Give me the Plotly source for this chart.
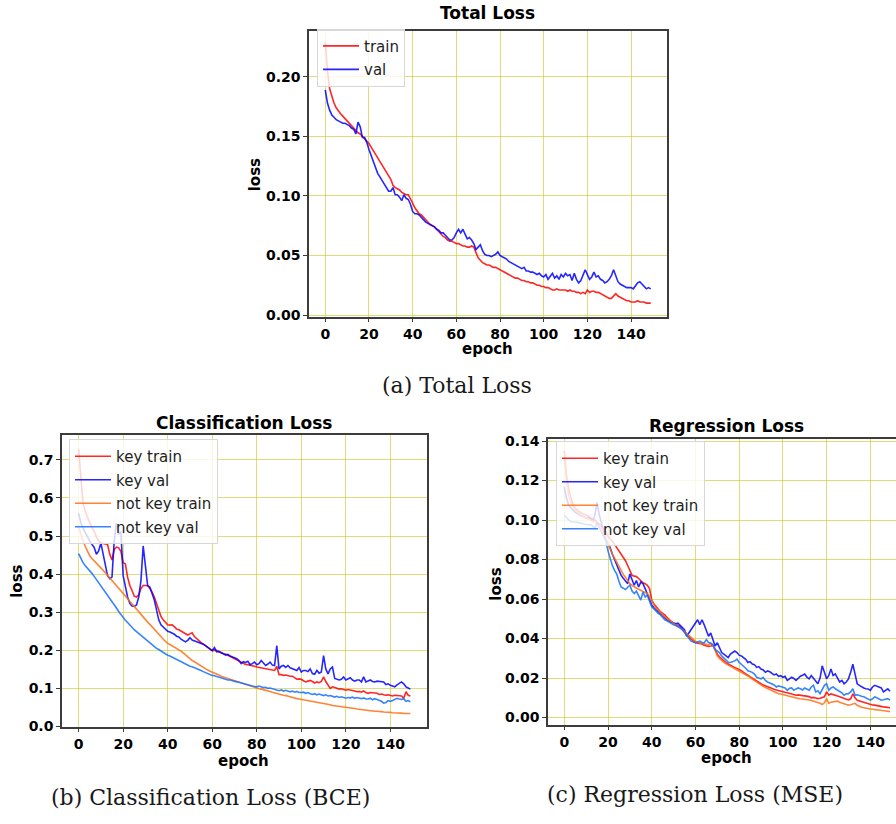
import plotly.graph_objects as go

W, H = 896, 824

epochs = list(range(150))

total_train = [
    0.229, 0.205, 0.190, 0.183, 0.178, 0.174, 0.171, 0.169, 0.167, 0.165,
    0.163, 0.161, 0.159, 0.157, 0.155, 0.153, 0.152, 0.150, 0.148, 0.146,
    0.144, 0.141, 0.138, 0.135, 0.133, 0.130, 0.127, 0.124, 0.121, 0.118,
    0.114, 0.109, 0.107, 0.106, 0.105, 0.103, 0.102, 0.101, 0.101, 0.098,
    0.094, 0.090, 0.087, 0.085, 0.084, 0.082, 0.080, 0.078, 0.076, 0.075,
    0.074, 0.072, 0.070, 0.068, 0.066, 0.065, 0.063, 0.062, 0.062, 0.061,
    0.060, 0.060, 0.059, 0.058, 0.058, 0.057, 0.057, 0.058, 0.057, 0.052,
    0.048, 0.046, 0.044, 0.043, 0.042, 0.042, 0.041, 0.040, 0.040, 0.039,
    0.038, 0.037, 0.036, 0.035, 0.034, 0.033, 0.032, 0.031, 0.031, 0.030,
    0.029, 0.029, 0.028, 0.028, 0.027, 0.027, 0.026, 0.025, 0.025, 0.024,
    0.024, 0.023, 0.023, 0.022, 0.021, 0.021, 0.022, 0.021, 0.021, 0.021,
    0.021, 0.020, 0.021, 0.020, 0.020, 0.019, 0.019, 0.018, 0.019, 0.018,
    0.021, 0.019, 0.020, 0.020, 0.019, 0.019, 0.018, 0.017, 0.016, 0.015,
    0.014, 0.014, 0.016, 0.018, 0.016, 0.015, 0.014, 0.013, 0.012, 0.012,
    0.011, 0.011, 0.011, 0.012, 0.011, 0.011, 0.011, 0.010, 0.010, 0.010,
]

total_val = [
    0.189, 0.178, 0.172, 0.168, 0.166, 0.164, 0.163, 0.162, 0.161, 0.161,
    0.160, 0.159, 0.157, 0.156, 0.152, 0.162, 0.158, 0.149, 0.149, 0.145,
    0.139, 0.134, 0.128, 0.123, 0.119, 0.116, 0.113, 0.110, 0.106, 0.104,
    0.104, 0.107, 0.101, 0.101, 0.099, 0.096, 0.101, 0.098, 0.097, 0.093,
    0.087, 0.085, 0.085, 0.084, 0.082, 0.080, 0.078, 0.077, 0.076, 0.075,
    0.074, 0.072, 0.071, 0.069, 0.069, 0.067, 0.065, 0.063, 0.063, 0.065,
    0.069, 0.072, 0.069, 0.072, 0.068, 0.064, 0.065, 0.063, 0.060, 0.055,
    0.057, 0.059, 0.054, 0.051, 0.050, 0.050, 0.049, 0.050, 0.051, 0.053,
    0.050, 0.049, 0.048, 0.047, 0.045, 0.044, 0.043, 0.042, 0.041, 0.040,
    0.039, 0.040, 0.037, 0.037, 0.036, 0.036, 0.035, 0.034, 0.035, 0.033,
    0.032, 0.034, 0.030, 0.033, 0.035, 0.031, 0.033, 0.030, 0.034, 0.032,
    0.035, 0.033, 0.034, 0.029, 0.035, 0.030, 0.027, 0.029, 0.034, 0.038,
    0.034, 0.030, 0.032, 0.036, 0.032, 0.033, 0.030, 0.029, 0.027, 0.028,
    0.030, 0.033, 0.038, 0.032, 0.028, 0.026, 0.025, 0.024, 0.023, 0.023,
    0.023, 0.022, 0.025, 0.027, 0.028, 0.026, 0.024, 0.022, 0.023, 0.022,
]

cls_key_train = [
    0.729, 0.660, 0.585, 0.565, 0.547, 0.535, 0.522, 0.512, 0.498, 0.487,
    0.482, 0.480, 0.480, 0.478, 0.452, 0.437, 0.465, 0.471, 0.469, 0.460,
    0.430, 0.427, 0.392, 0.370, 0.357, 0.342, 0.340, 0.345, 0.362, 0.370,
    0.370, 0.370, 0.362, 0.353, 0.340, 0.323, 0.302, 0.289, 0.280, 0.272,
    0.267, 0.266, 0.267, 0.262, 0.256, 0.254, 0.250, 0.246, 0.242, 0.240,
    0.243, 0.246, 0.236, 0.230, 0.224, 0.220, 0.216, 0.211, 0.207, 0.203,
    0.199, 0.199, 0.200, 0.196, 0.193, 0.191, 0.190, 0.187, 0.184, 0.180,
    0.177, 0.173, 0.170, 0.167, 0.164, 0.163, 0.162, 0.161, 0.160, 0.158,
    0.156, 0.155, 0.153, 0.153, 0.152, 0.151, 0.150, 0.149, 0.147, 0.158,
    0.136, 0.136, 0.134, 0.135, 0.133, 0.132, 0.132, 0.128, 0.124, 0.125,
    0.124, 0.120, 0.117, 0.119, 0.121, 0.118, 0.114, 0.117, 0.115, 0.118,
    0.130, 0.118, 0.108, 0.100, 0.104, 0.103, 0.100, 0.098, 0.099, 0.097,
    0.095, 0.097, 0.096, 0.095, 0.093, 0.091, 0.092, 0.090, 0.093, 0.089,
    0.087, 0.089, 0.088, 0.086, 0.087, 0.084, 0.085, 0.083, 0.082, 0.083,
    0.081, 0.080, 0.082, 0.081, 0.082, 0.080, 0.074, 0.091, 0.082, 0.080,
]

cls_key_val = [
    0.560, 0.535, 0.520, 0.508, 0.495, 0.487, 0.478, 0.470, 0.452, 0.461,
    0.482, 0.452, 0.422, 0.396, 0.388, 0.392, 0.487, 0.534, 0.504, 0.512,
    0.396, 0.370, 0.340, 0.323, 0.316, 0.315, 0.319, 0.340, 0.383, 0.474,
    0.426, 0.370, 0.366, 0.349, 0.332, 0.306, 0.280, 0.267, 0.261, 0.255,
    0.250, 0.248, 0.246, 0.242, 0.237, 0.235, 0.229, 0.226, 0.222, 0.226,
    0.233, 0.227, 0.225, 0.222, 0.222, 0.219, 0.216, 0.212, 0.207, 0.203,
    0.199, 0.207, 0.196, 0.197, 0.195, 0.191, 0.187, 0.189, 0.185, 0.183,
    0.181, 0.178, 0.173, 0.165, 0.170, 0.168, 0.171, 0.162, 0.165, 0.169,
    0.162, 0.165, 0.173, 0.165, 0.160, 0.164, 0.169, 0.161, 0.160, 0.212,
    0.151, 0.158, 0.160, 0.155, 0.160, 0.154, 0.151, 0.149, 0.147, 0.155,
    0.143, 0.147, 0.147, 0.144, 0.151, 0.139, 0.137, 0.147, 0.140, 0.143,
    0.186, 0.151, 0.138, 0.151, 0.156, 0.126, 0.125, 0.122, 0.124, 0.130,
    0.122, 0.125, 0.128, 0.122, 0.119, 0.122, 0.122, 0.117, 0.130, 0.117,
    0.120, 0.122, 0.118, 0.117, 0.119, 0.118, 0.116, 0.117, 0.110, 0.112,
    0.108, 0.107, 0.104, 0.109, 0.112, 0.117, 0.112, 0.104, 0.101, 0.098,
]

cls_notkey_train = [
    0.525, 0.505, 0.487, 0.473, 0.460, 0.448, 0.441, 0.435, 0.429, 0.423,
    0.418, 0.411, 0.404, 0.397, 0.390, 0.383, 0.376, 0.369, 0.362, 0.355,
    0.349, 0.342, 0.335, 0.328, 0.321, 0.315, 0.307, 0.300, 0.293, 0.286,
    0.280, 0.274, 0.268, 0.262, 0.256, 0.250, 0.243, 0.236, 0.229, 0.223,
    0.218, 0.215, 0.212, 0.209, 0.206, 0.203, 0.198, 0.193, 0.188, 0.182,
    0.177, 0.173, 0.170, 0.166, 0.162, 0.158, 0.155, 0.151, 0.148, 0.145,
    0.143, 0.140, 0.138, 0.135, 0.132, 0.130, 0.128, 0.125, 0.123, 0.121,
    0.119, 0.117, 0.116, 0.113, 0.112, 0.110, 0.108, 0.106, 0.104, 0.102,
    0.100, 0.099, 0.098, 0.096, 0.095, 0.093, 0.092, 0.090, 0.088, 0.086,
    0.084, 0.083, 0.082, 0.081, 0.079, 0.078, 0.076, 0.075, 0.073, 0.072,
    0.071, 0.070, 0.069, 0.067, 0.066, 0.065, 0.064, 0.063, 0.062, 0.062,
    0.061, 0.060, 0.058, 0.057, 0.055, 0.054, 0.053, 0.052, 0.051, 0.051,
    0.050, 0.049, 0.048, 0.048, 0.047, 0.046, 0.045, 0.044, 0.043, 0.043,
    0.042, 0.041, 0.041, 0.040, 0.040, 0.040, 0.039, 0.038, 0.038, 0.037,
    0.037, 0.036, 0.036, 0.035, 0.036, 0.035, 0.034, 0.035, 0.034, 0.034,
]

cls_notkey_val = [
    0.454, 0.440, 0.430, 0.422, 0.416, 0.410, 0.402, 0.394, 0.386, 0.378,
    0.370, 0.362, 0.354, 0.346, 0.337, 0.328, 0.320, 0.311, 0.302, 0.294,
    0.285, 0.279, 0.273, 0.266, 0.260, 0.254, 0.249, 0.244, 0.238, 0.234,
    0.229, 0.224, 0.220, 0.215, 0.210, 0.205, 0.202, 0.198, 0.194, 0.190,
    0.187, 0.185, 0.182, 0.180, 0.177, 0.175, 0.172, 0.168, 0.165, 0.161,
    0.158, 0.157, 0.155, 0.152, 0.149, 0.147, 0.144, 0.141, 0.139, 0.136,
    0.134, 0.133, 0.131, 0.130, 0.127, 0.126, 0.124, 0.122, 0.122, 0.120,
    0.117, 0.117, 0.116, 0.114, 0.112, 0.110, 0.110, 0.108, 0.106, 0.105,
    0.104, 0.106, 0.103, 0.102, 0.103, 0.100, 0.101, 0.099, 0.098, 0.097,
    0.094, 0.096, 0.093, 0.095, 0.092, 0.091, 0.093, 0.090, 0.092, 0.089,
    0.089, 0.090, 0.087, 0.089, 0.086, 0.084, 0.086, 0.083, 0.085, 0.082,
    0.081, 0.083, 0.080, 0.081, 0.079, 0.077, 0.079, 0.076, 0.078, 0.075,
    0.074, 0.076, 0.075, 0.077, 0.074, 0.076, 0.074, 0.073, 0.075, 0.072,
    0.072, 0.074, 0.070, 0.073, 0.071, 0.069, 0.066, 0.061, 0.063, 0.068,
    0.066, 0.068, 0.070, 0.074, 0.072, 0.071, 0.073, 0.066, 0.068, 0.065,
]

reg_key_train = [
    0.1350, 0.1226, 0.1160, 0.1110, 0.1080, 0.1060, 0.1050, 0.1040, 0.1035, 0.1030,
    0.1026, 0.1020, 0.1010, 0.1005, 0.1000, 0.0990, 0.0980, 0.0970, 0.0960, 0.0940,
    0.0918, 0.0905, 0.0894, 0.0877, 0.0860, 0.0843, 0.0827, 0.0810, 0.0794, 0.0770,
    0.0744, 0.0720, 0.0716, 0.0714, 0.0704, 0.0694, 0.0682, 0.0678, 0.0670, 0.0653,
    0.0595, 0.0575, 0.0560, 0.0548, 0.0536, 0.0528, 0.0520, 0.0507, 0.0495, 0.0486,
    0.0478, 0.0472, 0.0470, 0.0460, 0.0448, 0.0437, 0.0425, 0.0410, 0.0398, 0.0388,
    0.0379, 0.0377, 0.0375, 0.0372, 0.0366, 0.0363, 0.0360, 0.0362, 0.0365, 0.0345,
    0.0320, 0.0308, 0.0296, 0.0287, 0.0278, 0.0270, 0.0265, 0.0259, 0.0254, 0.0250,
    0.0246, 0.0238, 0.0229, 0.0220, 0.0213, 0.0207, 0.0200, 0.0192, 0.0185, 0.0178,
    0.0171, 0.0165, 0.0160, 0.0155, 0.0150, 0.0147, 0.0143, 0.0140, 0.0136, 0.0133,
    0.0130, 0.0128, 0.0126, 0.0122, 0.0120, 0.0117, 0.0113, 0.0115, 0.0112, 0.0111,
    0.0110, 0.0108, 0.0106, 0.0100, 0.0102, 0.0099, 0.0096, 0.0098, 0.0100, 0.0105,
    0.0130, 0.0113, 0.0120, 0.0115, 0.0110, 0.0109, 0.0105, 0.0100, 0.0096, 0.0093,
    0.0090, 0.0095, 0.0120, 0.0100, 0.0088, 0.0084, 0.0080, 0.0076, 0.0072, 0.0069,
    0.0066, 0.0064, 0.0063, 0.0060, 0.0058, 0.0056, 0.0054, 0.0053, 0.0051, 0.0050,
]

reg_key_val = [
    0.1168, 0.1110, 0.1076, 0.1060, 0.1050, 0.1040, 0.1035, 0.1026, 0.1020, 0.1018,
    0.1010, 0.1012, 0.1008, 0.0993, 0.1026, 0.1090, 0.1026, 0.0977, 0.0943, 0.0900,
    0.0877, 0.0860, 0.0827, 0.0800, 0.0777, 0.0745, 0.0720, 0.0705, 0.0694, 0.0678,
    0.0727, 0.0694, 0.0670, 0.0694, 0.0661, 0.0686, 0.0678, 0.0653, 0.0628, 0.0603,
    0.0570, 0.0556, 0.0545, 0.0537, 0.0528, 0.0512, 0.0503, 0.0495, 0.0487, 0.0482,
    0.0478, 0.0475, 0.0478, 0.0468, 0.0453, 0.0445, 0.0412, 0.0428, 0.0445, 0.0462,
    0.0478, 0.0495, 0.0470, 0.0495, 0.0470, 0.0437, 0.0412, 0.0428, 0.0395, 0.0362,
    0.0379, 0.0354, 0.0329, 0.0321, 0.0312, 0.0304, 0.0321, 0.0329, 0.0337, 0.0329,
    0.0316, 0.0312, 0.0304, 0.0295, 0.0279, 0.0283, 0.0271, 0.0268, 0.0254, 0.0258,
    0.0246, 0.0241, 0.0229, 0.0236, 0.0232, 0.0225, 0.0216, 0.0221, 0.0209, 0.0212,
    0.0204, 0.0209, 0.0188, 0.0196, 0.0204, 0.0198, 0.0188, 0.0198, 0.0209, 0.0214,
    0.0220, 0.0205, 0.0196, 0.0213, 0.0200, 0.0188, 0.0171, 0.0200, 0.0262, 0.0229,
    0.0196, 0.0213, 0.0246, 0.0213, 0.0221, 0.0200, 0.0180, 0.0188, 0.0171, 0.0180,
    0.0196, 0.0229, 0.0270, 0.0221, 0.0171, 0.0163, 0.0155, 0.0150, 0.0146, 0.0145,
    0.0138, 0.0155, 0.0163, 0.0158, 0.0155, 0.0150, 0.0130, 0.0140, 0.0146, 0.0133,
]

reg_notkey_train = [
    0.1340, 0.1200, 0.1130, 0.1090, 0.1070, 0.1050, 0.1040, 0.1030, 0.1025, 0.1015,
    0.1010, 0.1005, 0.1000, 0.0995, 0.0990, 0.0980, 0.0970, 0.0960, 0.0935, 0.0905,
    0.0877, 0.0855, 0.0827, 0.0805, 0.0785, 0.0765, 0.0744, 0.0725, 0.0710, 0.0695,
    0.0678, 0.0670, 0.0661, 0.0655, 0.0650, 0.0644, 0.0638, 0.0630, 0.0628, 0.0612,
    0.0595, 0.0570, 0.0553, 0.0545, 0.0530, 0.0520, 0.0510, 0.0502, 0.0495, 0.0486,
    0.0478, 0.0472, 0.0465, 0.0455, 0.0445, 0.0437, 0.0425, 0.0415, 0.0405, 0.0395,
    0.0387, 0.0380, 0.0378, 0.0376, 0.0372, 0.0370, 0.0368, 0.0376, 0.0365, 0.0340,
    0.0312, 0.0300, 0.0288, 0.0280, 0.0272, 0.0266, 0.0260, 0.0252, 0.0245, 0.0240,
    0.0237, 0.0230, 0.0225, 0.0218, 0.0212, 0.0204, 0.0195, 0.0187, 0.0178, 0.0170,
    0.0163, 0.0158, 0.0152, 0.0147, 0.0140, 0.0133, 0.0128, 0.0125, 0.0121, 0.0119,
    0.0116, 0.0112, 0.0110, 0.0106, 0.0103, 0.0100, 0.0099, 0.0097, 0.0095, 0.0094,
    0.0093, 0.0091, 0.0089, 0.0086, 0.0083, 0.0080, 0.0076, 0.0072, 0.0066, 0.0075,
    0.0096, 0.0072, 0.0078, 0.0080, 0.0082, 0.0083, 0.0078, 0.0072, 0.0070, 0.0066,
    0.0063, 0.0065, 0.0070, 0.0072, 0.0062, 0.0055, 0.0052, 0.0050, 0.0047, 0.0045,
    0.0043, 0.0042, 0.0041, 0.0040, 0.0039, 0.0038, 0.0036, 0.0034, 0.0032, 0.0030,
]

reg_notkey_val = [
    0.1026, 0.1010, 0.1000, 0.0993, 0.0990, 0.0990, 0.0988, 0.0985, 0.0985, 0.0980,
    0.0977, 0.0975, 0.0977, 0.0968, 0.0960, 0.0985, 0.0960, 0.0935, 0.0910, 0.0893,
    0.0844, 0.0805, 0.0769, 0.0745, 0.0727, 0.0690, 0.0661, 0.0655, 0.0648, 0.0660,
    0.0670, 0.0640, 0.0628, 0.0640, 0.0620, 0.0595, 0.0636, 0.0611, 0.0620, 0.0595,
    0.0561, 0.0550, 0.0536, 0.0528, 0.0520, 0.0508, 0.0495, 0.0490, 0.0482, 0.0476,
    0.0470, 0.0466, 0.0462, 0.0455, 0.0445, 0.0430, 0.0412, 0.0400, 0.0387, 0.0383,
    0.0379, 0.0383, 0.0387, 0.0380, 0.0378, 0.0395, 0.0380, 0.0376, 0.0370, 0.0345,
    0.0337, 0.0328, 0.0312, 0.0300, 0.0287, 0.0280, 0.0279, 0.0283, 0.0287, 0.0296,
    0.0279, 0.0270, 0.0262, 0.0250, 0.0237, 0.0233, 0.0229, 0.0220, 0.0204, 0.0200,
    0.0196, 0.0204, 0.0188, 0.0180, 0.0175, 0.0171, 0.0165, 0.0155, 0.0160, 0.0157,
    0.0154, 0.0150, 0.0138, 0.0148, 0.0150, 0.0138, 0.0145, 0.0150, 0.0146, 0.0140,
    0.0150, 0.0146, 0.0138, 0.0155, 0.0163, 0.0130, 0.0136, 0.0121, 0.0140, 0.0163,
    0.0171, 0.0138, 0.0150, 0.0155, 0.0146, 0.0140, 0.0130, 0.0125, 0.0113, 0.0120,
    0.0121, 0.0130, 0.0146, 0.0113, 0.0115, 0.0113, 0.0108, 0.0105, 0.0100, 0.0096,
    0.0088, 0.0095, 0.0105, 0.0100, 0.0096, 0.0088, 0.0090, 0.0094, 0.0096, 0.0088,
]

x_ticks = [0, 20, 40, 60, 80, 100, 120, 140]
total_yticks = [0.00, 0.05, 0.10, 0.15, 0.20]
cls_yticks = [0.0, 0.1, 0.2, 0.3, 0.4, 0.5, 0.6, 0.7]
reg_yticks = [0.00, 0.02, 0.04, 0.06, 0.08, 0.10, 0.12, 0.14]

RED = "rgba(255,0,0,0.85)"
BLUE = "rgba(0,0,255,0.85)"
ORANGE = "rgba(255,110,20,0.85)"
LBLUE = "rgba(20,110,255,0.85)"

FONT = "DejaVu Sans"
SERIF = "DejaVu Serif"
GRID = "rgba(200,200,30,0.6)"
FRAME = "rgb(60,60,60)"


def px(x):
    return x / W


def py(y):
    return 1 - y / H


fig = go.Figure()


def add(xa, ya, y, name, color, legend):
    fig.add_trace(go.Scatter(
        x=epochs, y=y, name=name, mode="lines",
        line=dict(color=color, width=1.6),
        xaxis=xa, yaxis=ya, legend=legend, legendgroup=legend + name,
    ))


add("x", "y", total_train, "train", RED, "legend")
add("x", "y", total_val, "val", BLUE, "legend")
add("x2", "y2", cls_key_train, "key train", RED, "legend2")
add("x2", "y2", cls_key_val, "key val", BLUE, "legend2")
add("x2", "y2", cls_notkey_train, "not key train", ORANGE, "legend2")
add("x2", "y2", cls_notkey_val, "not key val", LBLUE, "legend2")
add("x3", "y3", reg_key_train, "key train", RED, "legend3")
add("x3", "y3", reg_key_val, "key val", BLUE, "legend3")
add("x3", "y3", reg_notkey_train, "not key train", ORANGE, "legend3")
add("x3", "y3", reg_notkey_val, "not key val", LBLUE, "legend3")

tickfont = dict(family=FONT, size=14, color="black", weight="bold")


def xaxis(domain, anchor, rng):
    return dict(
        domain=domain, anchor=anchor, range=rng,
        tickvals=x_ticks, ticktext=[str(t) for t in x_ticks],
        showgrid=True, gridcolor=GRID, gridwidth=1,
        showline=True, linecolor=FRAME, linewidth=1.5, mirror=True,
        ticks="outside", ticklen=3, tickcolor=FRAME, tickwidth=1,
        tickfont=tickfont, zeroline=False,
    )


def yaxis(domain, anchor, rng, ticks, fmt, mirror=True):
    return dict(
        domain=domain, anchor=anchor, range=rng,
        tickvals=ticks, ticktext=[fmt.format(t) for t in ticks],
        showgrid=True, gridcolor=GRID, gridwidth=1,
        showline=True, linecolor=FRAME, linewidth=1.5, mirror=mirror,
        ticks="outside", ticklen=4, tickcolor=FRAME, tickwidth=1,
        tickfont=tickfont, zeroline=False,
    )


legfont = dict(family=FONT, size=15, color="rgb(30,30,30)")


def legend(x, y):
    return dict(
        x=x, y=y, xanchor="left", yanchor="top", xref="paper", yref="paper",
        bgcolor="rgba(255,255,255,0.8)", bordercolor="rgb(215,215,215)",
        borderwidth=1, font=legfont, itemwidth=36, tracegroupgap=1,
    )


fig.update_layout(
    width=W, height=H, margin=dict(l=0, r=0, t=0, b=0),
    paper_bgcolor="white", plot_bgcolor="white",
    xaxis=xaxis([px(309), px(667)], "y", [-7.45, 156.45]),
    yaxis=yaxis([py(316), py(25)], "x", [-0.00165, 0.2388], total_yticks, "{:.2f}"),
    xaxis2=xaxis([px(62), px(427)], "y2", [-7.45, 156.45]),
    yaxis2=yaxis([py(733), py(436)], "x2", [-0.0026, 0.765], cls_yticks, "{:.1f}"),
    xaxis3=xaxis([px(548), 1.0], "y3", [-7.45, 151.75]),
    yaxis3=yaxis([py(731), py(440)], "x3", [-0.004, 0.141], reg_yticks, "{:.2f}", mirror=False),
    legend=legend(px(317), py(23)),
    legend2=legend(px(69), py(440)),
    legend3=legend(px(556), py(442)),
    showlegend=True,
)


def text(x, y, s, size, bold=False, family=FONT, angle=0, color="black", anchor="middle"):
    fig.add_annotation(
        x=px(x), y=py(y), xref="paper", yref="paper", text=s, showarrow=False,
        xanchor="center", yanchor=anchor, textangle=angle,
        font=dict(family=family, size=size, color=color,
                  weight="bold" if bold else "normal"),
    )


# titles
text(488, -5, "Total Loss", 17, True, anchor="top")
text(244, 424, "Classification Loss", 17, True)
text(726, 427, "Regression Loss", 17, True)
# axis labels
text(488, 349, "epoch", 15, True)
text(244, 767, "epoch", 15, True)
text(726, 764, "epoch", 15, True)
text(255, 172, "loss", 15, True, angle=-90)
text(17, 585, "loss", 15, True, angle=-90)
text(496, 588, "loss", 15, True, angle=-90)
# captions
text(457, 386, "(a) Total Loss", 22, family=SERIF, color="rgb(25,25,25)")
text(210, 804, "(b) Classification Loss (BCE)", 22, family=SERIF, color="rgb(25,25,25)")
text(695, 801, "(c) Regression Loss (MSE)", 22, family=SERIF, color="rgb(25,25,25)")

fig.write_html(
    "out.html",
    config={"displayModeBar": False},
    post_script="document.body.style.margin='0px';document.body.style.overflow='hidden';",
)
